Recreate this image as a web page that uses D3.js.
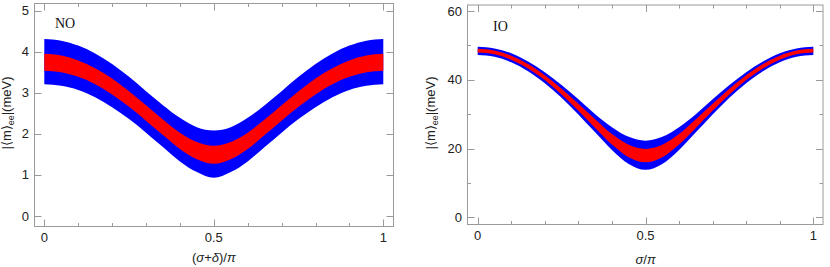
<!DOCTYPE html>
<html>
<head>
<meta charset="utf-8">
<script src="https://cdn.jsdelivr.net/npm/d3@7"></script>
<style>
  body { margin: 0; background: #fff; }
  .tick-label { font-family: "Liberation Sans", Arial, sans-serif; font-size: 13px; fill: #222; }
  .axis-label { font-family: "Liberation Sans", Arial, sans-serif; font-size: 13px; fill: #222; }
  .title { font-family: "Liberation Serif", "Times New Roman", serif; font-size: 14px; fill: #111; }
</style>
</head>
<body>
<svg id="chart"></svg>
<script>
// x positions (in units of pi) where the band edges were read
var xs = [0, 0.05, 0.1, 0.15, 0.2, 0.25, 0.3, 0.35, 0.4, 0.45, 0.5,
          0.55, 0.6, 0.65, 0.7, 0.75, 0.8, 0.85, 0.9, 0.95, 1];

// NO panel, |<m>ee| in meV
var noBlueHi = [4.31, 4.27, 4.15, 3.96, 3.70, 3.39, 3.04, 2.70, 2.39, 2.16, 2.08,
                2.16, 2.39, 2.70, 3.04, 3.39, 3.70, 3.96, 4.15, 4.27, 4.31];
var noRedHi  = [3.95, 3.91, 3.79, 3.60, 3.35, 3.04, 2.70, 2.35, 2.03, 1.80, 1.71,
                1.80, 2.03, 2.35, 2.70, 3.04, 3.35, 3.60, 3.79, 3.91, 3.95];
var noRedLo  = [3.54, 3.50, 3.39, 3.21, 2.96, 2.66, 2.32, 1.97, 1.63, 1.38, 1.27,
                1.38, 1.63, 1.97, 2.32, 2.66, 2.96, 3.21, 3.39, 3.50, 3.54];
var noBlueLo = [3.21, 3.17, 3.07, 2.89, 2.65, 2.36, 2.03, 1.68, 1.33, 1.07, 0.93,
                1.07, 1.33, 1.68, 2.03, 2.36, 2.65, 2.89, 3.07, 3.17, 3.21];

// IO panel
var ioBlueHi = [49.6, 49.1, 47.7, 45.3, 42.2, 38.5, 34.3, 30.0, 26.2, 23.4, 22.3,
                23.4, 26.2, 30.0, 34.3, 38.5, 42.2, 45.3, 47.7, 49.1, 49.6];
var ioRedHi  = [49.0, 48.5, 47.0, 44.6, 41.3, 37.4, 33.0, 28.5, 24.2, 21.1, 19.9,
                21.1, 24.2, 28.5, 33.0, 37.4, 41.3, 44.6, 47.0, 48.5, 49.0];
var ioRedLo  = [47.9, 47.4, 45.8, 43.3, 39.9, 35.7, 31.0, 26.0, 21.2, 17.5, 16.0,
                17.5, 21.2, 26.0, 31.0, 35.7, 39.9, 43.3, 45.8, 47.4, 47.9];
var ioBlueLo = [47.2, 46.7, 45.1, 42.5, 39.0, 34.8, 29.9, 24.7, 19.6, 15.5, 13.8,
                15.5, 19.6, 24.7, 29.9, 34.8, 39.0, 42.5, 45.1, 46.7, 47.2];

// ticks
var xMajor = [0, 0.5, 1];
var xMinor = [0.1, 0.2, 0.3, 0.4, 0.6, 0.7, 0.8, 0.9];
var xTickLabels = ["0", "0.5", "1"];
var noYMajor = [0, 1, 2, 3, 4, 5];
var ioYMajor = [0, 20, 40, 60];
var ioYMinor = [10, 30, 50];

var w = 830, h = 267;
var svg = d3.select("#chart").attr("width", w).attr("height", h);

var frameColor = "#9a9a9a";

function drawPanel(p) {
  var g = svg.append("g");
  var xScale = d3.scaleLinear().domain([0, 1]).range([p.x0, p.x1]);
  var yScale = d3.scaleLinear().domain(p.yDomain).range([p.y0, p.y1]);

  var area = function(hi, lo) {
    return d3.area()
      .x(function(d, i) { return xScale(xs[i]); })
      .y0(function(d, i) { return yScale(lo[i]); })
      .y1(function(d, i) { return yScale(hi[i]); })
      .curve(d3.curveMonotoneX)(xs);
  };

  g.append("path").attr("d", area(p.blueHi, p.blueLo)).attr("fill", "#0000ff");
  g.append("path").attr("d", area(p.redHi, p.redLo)).attr("fill", "#ff0000");

  // frame
  g.append("rect")
    .attr("x", p.fx0 + 0.5).attr("y", p.fy0 + 0.5)
    .attr("width", p.fx1 - p.fx0).attr("height", p.fy1 - p.fy0)
    .attr("fill", "none").attr("stroke", frameColor).attr("stroke-width", 1);

  // x ticks, bottom and top, pointing inward
  var xt = xMajor.map(function(v) { return [v, 7]; })
    .concat(xMinor.map(function(v) { return [v, 3.5]; }));
  xt.forEach(function(t) {
    var x = Math.round(xScale(t[0])) + 0.5;
    g.append("line").attr("x1", x).attr("x2", x)
      .attr("y1", p.fy1 + 0.5).attr("y2", p.fy1 + 0.5 - t[1])
      .attr("stroke", frameColor);
    g.append("line").attr("x1", x).attr("x2", x)
      .attr("y1", p.fy0 + 0.5).attr("y2", p.fy0 + 0.5 + t[1])
      .attr("stroke", frameColor);
  });
  xMajor.forEach(function(v, i) {
    g.append("text").attr("class", "tick-label")
      .attr("x", xScale(v)).attr("y", p.fy1 + 15.5)
      .attr("text-anchor", "middle").text(xTickLabels[i]);
  });

  // y ticks, left and right
  var yt = p.yMajor.map(function(v) { return [v, 7]; })
    .concat(p.yMinor.map(function(v) { return [v, 3.5]; }));
  yt.forEach(function(t) {
    var y = Math.round(yScale(t[0])) + 0.5;
    g.append("line").attr("y1", y).attr("y2", y)
      .attr("x1", p.fx0 + 0.5).attr("x2", p.fx0 + 0.5 + t[1])
      .attr("stroke", frameColor);
    g.append("line").attr("y1", y).attr("y2", y)
      .attr("x1", p.fx1 + 0.5).attr("x2", p.fx1 + 0.5 - t[1])
      .attr("stroke", frameColor);
  });
  p.yMajor.forEach(function(v) {
    g.append("text").attr("class", "tick-label")
      .attr("x", p.fx0 - 5).attr("y", yScale(v) + 4.5)
      .attr("text-anchor", "end").text(v);
  });

  // y label
  var yl = g.append("text").attr("class", "axis-label")
    .attr("transform", "translate(" + p.ylx + "," + p.yly + ") rotate(-90)")
    .attr("text-anchor", "middle");
  yl.append("tspan").text("|\u27E8m\u27E9");
  yl.append("tspan").attr("font-size", "9px").attr("dy", 3).text("ee");
  yl.append("tspan").attr("dy", -3).text("|(meV)");

  // x label
  var xl = g.append("text").attr("class", "axis-label")
    .attr("x", (p.x0 + p.x1) / 2).attr("y", p.xly)
    .attr("text-anchor", "middle");
  p.xlabel.forEach(function(part) {
    var t = xl.append("tspan").text(part[0]);
    if (part[1]) t.attr("font-style", "italic");
  });

  // panel title
  g.append("text").attr("class", "title")
    .attr("x", p.tx).attr("y", p.ty).text(p.title);
}

drawPanel({
  x0: 44.3, x1: 383.3, y0: 216, y1: 10.7, yDomain: [0, 5],
  fx0: 34, fx1: 393, fy0: 3, fy1: 226,
  blueHi: noBlueHi, blueLo: noBlueLo, redHi: noRedHi, redLo: noRedLo,
  yMajor: noYMajor, yMinor: [],
  ylx: 11, yly: 113, xly: 262,
  xlabel: [["(", false], ["\u03C3", true], ["+", false], ["\u03B4", true], [")/", false], ["\u03C0", true]],
  title: "NO", tx: 55, ty: 27.5
});

drawPanel({
  x0: 477.7, x1: 813.3, y0: 217.3, y1: 11, yDomain: [0, 60],
  fx0: 467, fx1: 822.5, fy0: 4.5, fy1: 224,
  blueHi: ioBlueHi, blueLo: ioBlueLo, redHi: ioRedHi, redLo: ioRedLo,
  yMajor: ioYMajor, yMinor: ioYMinor,
  ylx: 435, yly: 113, xly: 264,
  xlabel: [["\u03C3", true], ["/", false], ["\u03C0", true]],
  title: "IO", tx: 493, ty: 30.5
});
</script>
</body>
</html>
